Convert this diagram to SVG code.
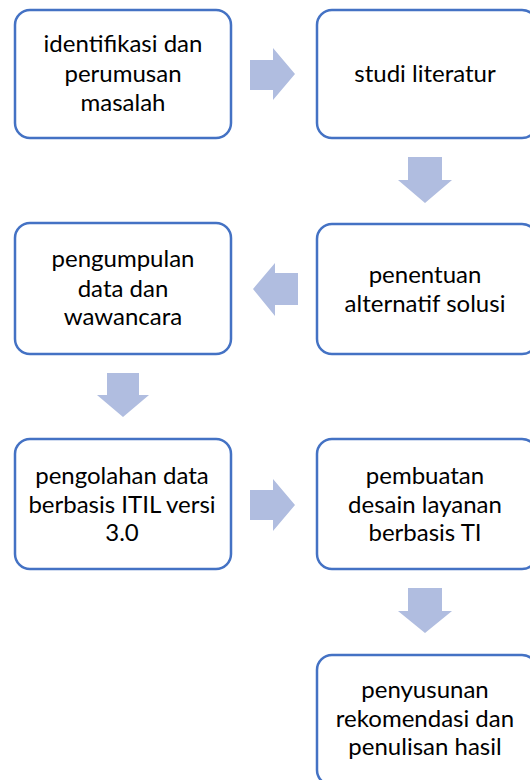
<svg xmlns="http://www.w3.org/2000/svg" width="530" height="780" viewBox="0 0 530 780">
<style>
.box{fill:#fff;stroke:#4472C4;stroke-width:2.5}
.arr{fill:#B0BDE0;stroke:none}
text{font-family:"Lato","Liberation Sans",sans-serif;font-size:24px;fill:#000;text-anchor:middle}
</style>
<rect width="530" height="780" fill="#fff"/>
<g id="connectors">
<polygon class="arr" points="250,60 273,60 273,48 295,74 273,100 273,90 250,90"/>
<polygon class="arr" points="408,157 442,157 442,180 452,180 425,203 398,180 408,180"/>
<polygon class="arr" points="298,273 275,273 275,263 253,289 275,316 275,305 298,305"/>
<polygon class="arr" points="107,373 139,373 139,395 149,395 123,417 97,395 107,395"/>
<polygon class="arr" points="250,490 273,490 273,479 295,505 273,531 273,520 250,520"/>
<polygon class="arr" points="408,588 442,588 442,611 452,611 425,633 398,611 408,611"/>
</g>
<g id="n1"><rect class="box" x="15" y="10" width="216" height="128" rx="15"/>
<text x="123" y="52">identifikasi dan</text><text x="123" y="82">perumusan</text><text x="123" y="111">masalah</text></g>
<g id="n2"><rect class="box" x="317" y="10" width="220" height="128" rx="15"/>
<text x="425" y="82">studi literatur</text></g>
<g id="n3"><rect class="box" x="15" y="223" width="216" height="131" rx="15"/>
<text x="123" y="267">pengumpulan</text><text x="123" y="297">data dan</text><text x="123" y="325">wawancara</text></g>
<g id="n4"><rect class="box" x="317" y="224" width="220" height="130" rx="15"/>
<text x="425" y="283">penentuan</text><text x="425" y="312">alternatif solusi</text></g>
<g id="n5"><rect class="box" x="15" y="439" width="216" height="130" rx="15"/>
<text x="122" y="484">pengolahan data</text><text x="122" y="513">berbasis ITIL versi</text><text x="122" y="541">3.0</text></g>
<g id="n6"><rect class="box" x="317" y="439" width="220" height="130" rx="15"/>
<text x="425" y="484">pembuatan</text><text x="425" y="513">desain layanan</text><text x="425" y="541">berbasis TI</text></g>
<g id="n7"><rect class="box" x="317" y="655" width="220" height="130" rx="15"/>
<text x="425" y="698">penyusunan</text><text x="425" y="727">rekomendasi dan</text><text x="425" y="755">penulisan hasil</text></g>
</svg>
